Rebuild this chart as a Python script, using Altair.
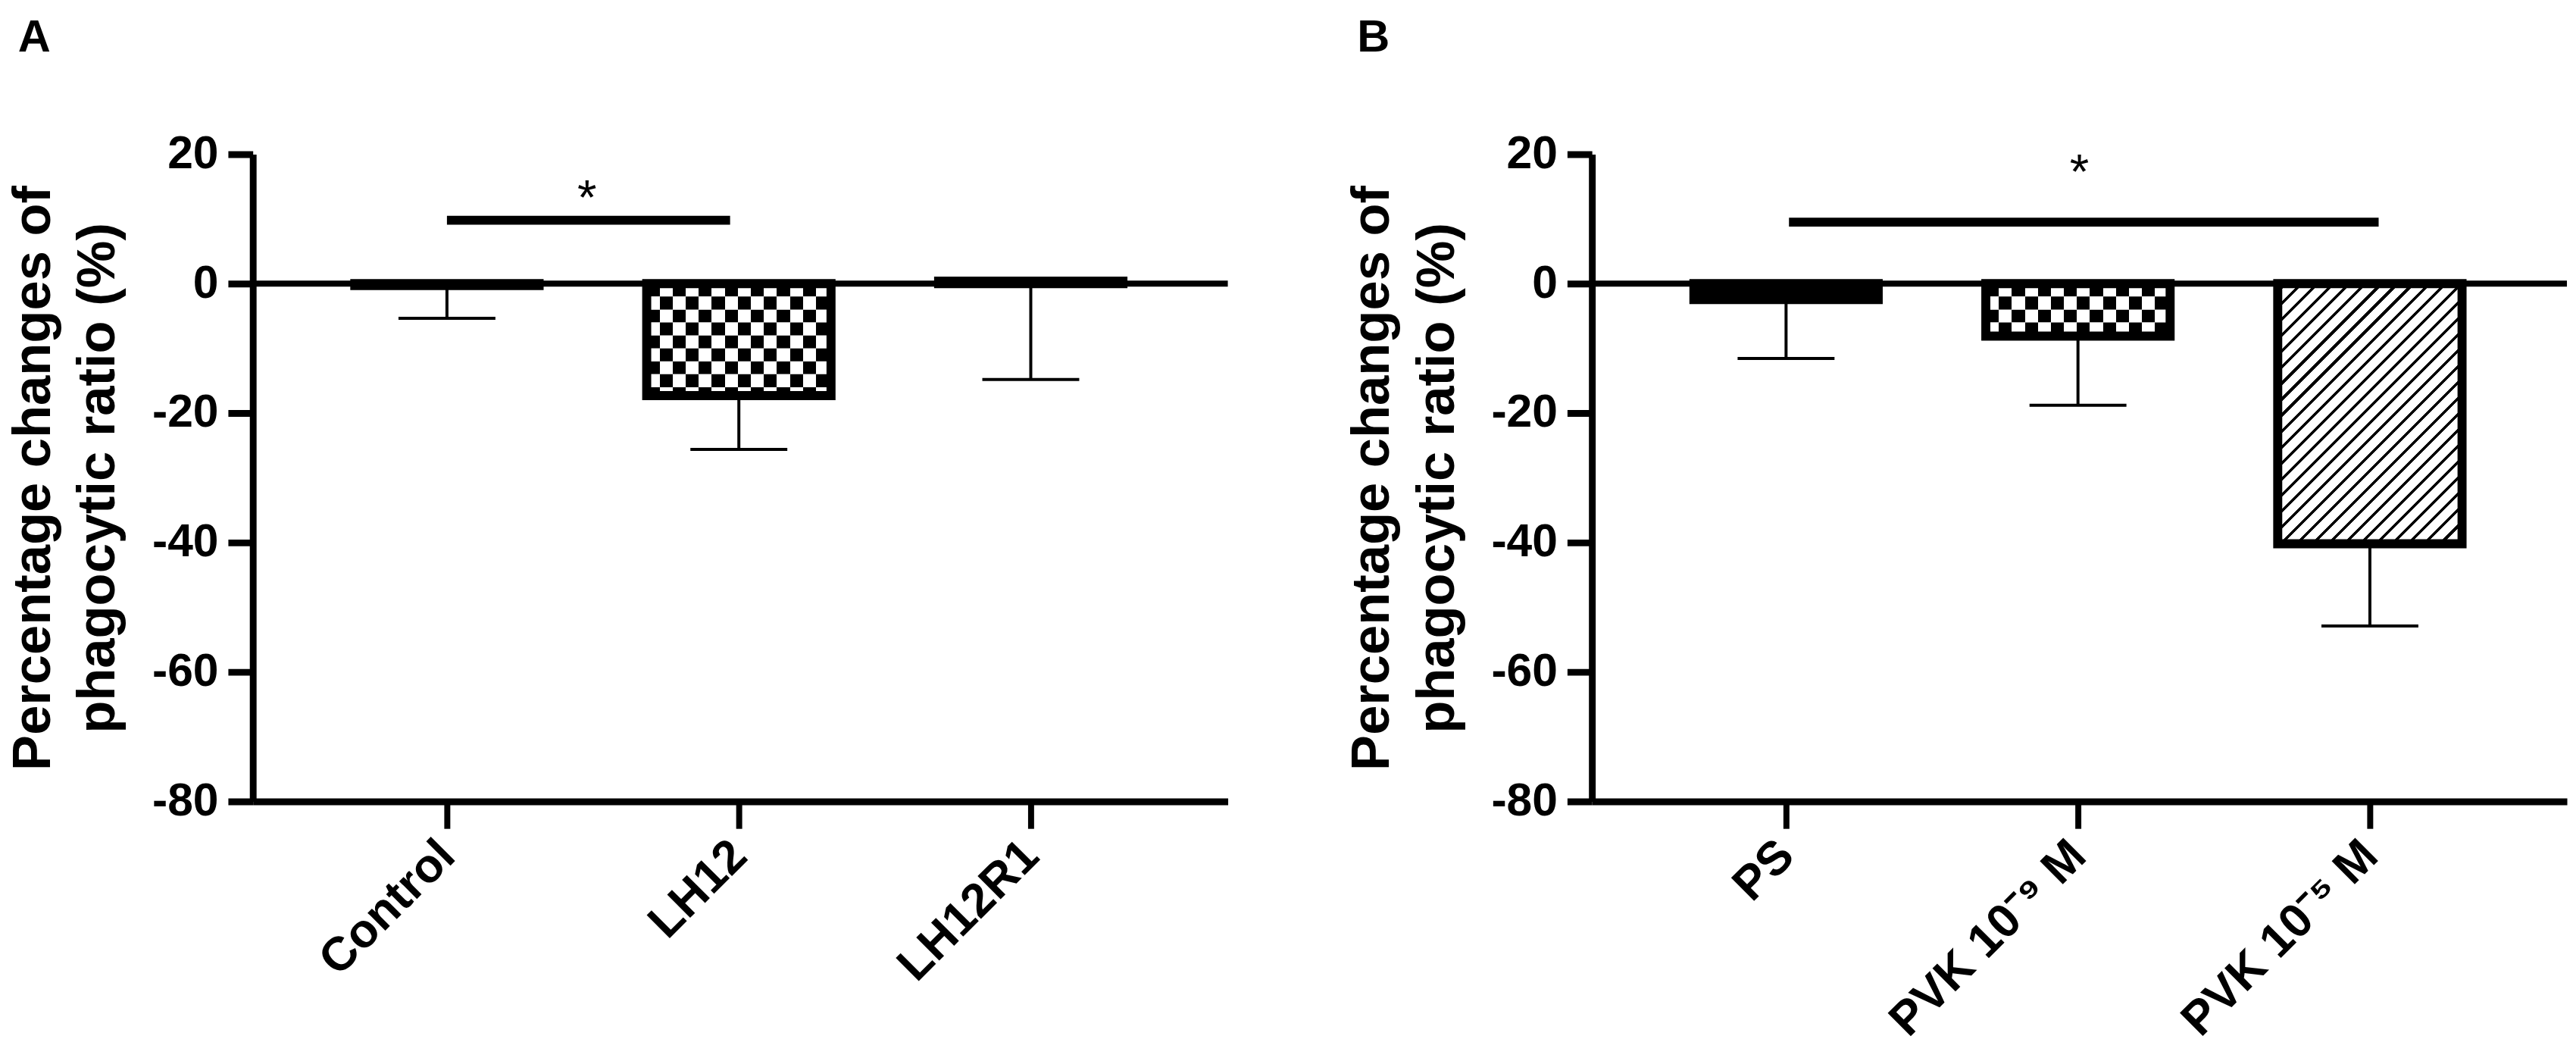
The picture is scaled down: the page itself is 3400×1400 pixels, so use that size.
import json
import math
import altair as alt
import pandas as pd

# ---------------- data ----------------
cats_a = ["Control", "LH12", "LH12R1"]
mean_a = [-0.3, -17.3, 0.4]
sem_a = [5.05, 8.3, 15.2]
style_a = ["solid", "checker", "open"]
sig_a = [0.0, 0.97, 9.8]          # from index, to index, y value
star_a = [0.48, 10.7]            # x index, y value

cats_b = ["PS", "PVK 10⁻⁹ M", "PVK 10⁻⁵ M"]
mean_b = [-2.45, -8.1, -40.2]
sem_b = [9.1, 10.7, 12.7]
style_b = ["solid", "checker", "hatch"]
sig_b = [0.01, 2.03, 9.5]
star_b = [1.005, 14.7]

y_ticks = [-80, -60, -40, -20, 0, 20]
y_title = ["Percentage changes of", "phagocytic ratio (%)"]

# ---------------- layout / style ----------------
FONT = "Liberation Sans"
W, H = 1296, 860
X_DOM = [-0.665, 2.675]
Y_DOM = [-80, 20]
STEP = W / (X_DOM[1] - X_DOM[0])
PXU = H / (Y_DOM[1] - Y_DOM[0])
BAR_HALF = 0.3157
CAP_HALF = 0.166
BAR_PX = 2 * BAR_HALF * STEP
CELL = 17.3


def checker_grad(phase):
    f = CELL / BAR_PX
    n = int(math.ceil(1 / f)) + 1
    stops = []
    for k in range(n):
        c = "black" if (k + phase) % 2 == 0 else "white"
        a, b = min(k * f, 1.0), min((k + 1) * f, 1.0)
        stops.append({"offset": a, "color": c})
        stops.append({"offset": b, "color": c})
    return {"gradient": "linear", "x1": 0, "y1": 0, "x2": 1, "y2": 0, "stops": stops}


def hatch_grad(value):
    w = BAR_PX
    h = abs(value) * PXU
    den = w * w + h * h
    period, blk, phase = 21.2, 5.2, 8.0
    stops = [{"offset": 0.0, "color": "white"}]
    c = phase
    while c < w + h + period:
        t0 = min(c * w / den, 1.0)
        t1 = min((c + blk) * w / den, 1.0)
        stops += [{"offset": t0, "color": "white"}, {"offset": t0, "color": "black"},
                  {"offset": t1, "color": "black"}, {"offset": t1, "color": "white"}]
        c += period
    stops.append({"offset": 1.0, "color": "white"})
    return {"gradient": "linear", "x1": 0, "y1": 0, "x2": 1, "y2": h / w, "stops": stops}


def panel(letter, cats, means, sems, styles, sig, star):
    df = pd.DataFrame({"i": list(range(len(cats))), "cat": cats, "mean": means,
                       "sem": sems, "style": styles})
    df["lo"] = df["mean"] - df["sem"]
    xs = alt.Scale(domain=X_DOM, nice=False, zero=False)
    ys = alt.Scale(domain=Y_DOM, nice=False, zero=False)
    label_expr = json.dumps(cats) + "[round(datum.value)]"
    x_axis = alt.Axis(values=[0, 1, 2], labelExpr=label_expr, title=None, grid=False,
                      domainWidth=9, domainColor="black", tickWidth=8, tickColor="black",
                      tickSize=36, labelAngle=-45, labelAlign="right", labelBaseline="middle",
                      labelFontSize=63, labelFont=FONT, labelLimit=2000,
                      labelFontWeight="bold", labelColor="black", labelPadding=26,
                      labelFlush=False, labelOverlap=False)
    y_axis = alt.Axis(values=y_ticks, labelExpr="'' + datum.value", grid=False,
                      domainWidth=9, domainColor="black", tickWidth=9, tickColor="black",
                      tickSize=33, labelFontSize=61, labelFont=FONT, labelFontWeight="bold",
                      labelColor="black", labelPadding=13, title=y_title,
                      titleFont=FONT, titleFontSize=71, titleFontWeight="bold",
                      titleColor="black", titleLineHeight=86, titlePadding=35,
                      titleLimit=2000)

    base = alt.Chart(df).transform_calculate(
        x0=f"datum.i - {BAR_HALF}", x1=f"datum.i + {BAR_HALF}",
        c0=f"datum.i - {CAP_HALF}", c1=f"datum.i + {CAP_HALF}")

    X = lambda f: alt.X(f, scale=xs)
    Y = lambda f: alt.Y(f, scale=ys)

    fills = base.transform_filter("datum.style != 'hatch'").mark_rect().encode(
        x=alt.X("x0:Q", scale=xs, axis=x_axis),
        x2="x1:Q",
        y=alt.Y("mean:Q", scale=ys, axis=y_axis),
        y2=alt.datum(0),
        fill=alt.condition("datum.style == 'solid'", alt.value("black"), alt.value("white")),
    )
    zero = alt.Chart(pd.DataFrame({"z": [0]})).mark_rule(
        color="black", strokeWidth=8).encode(y=Y("z:Q"))
    layers = [fills, zero]

    if "hatch" in styles:
        hv = means[styles.index("hatch")]
        hatch = base.transform_filter("datum.style == 'hatch'").mark_rect(
            fill=hatch_grad(hv)).encode(
            x=X("x0:Q"), x2="x1:Q", y=Y("mean:Q"), y2=alt.datum(0))
        layers.append(hatch)

    if "checker" in styles:
        ci = styles.index("checker")
        cv = means[ci]
        rows = []
        k = 0
        while -2 * k > cv:
            rows.append({"i": ci, "top": -2 * k, "bot": max(-2 * (k + 1), cv), "par": k % 2})
            k += 1
        rdf = pd.DataFrame(rows)
        for par in (0, 1):
            layers.append(
                alt.Chart(rdf).transform_filter(f"datum.par == {par}").transform_calculate(
                    x0=f"datum.i - {BAR_HALF}", x1=f"datum.i + {BAR_HALF}").mark_rect(
                    fill=checker_grad(par)).encode(
                    x=X("x0:Q"), x2="x1:Q", y=Y("top:Q"), y2="bot:Q"))

    outline = base.mark_rect(fillOpacity=0, stroke="black", strokeWidth=12).encode(
        x=X("x0:Q"), x2="x1:Q", y=Y("mean:Q"), y2=alt.datum(0))
    err = base.mark_rule(color="black", strokeWidth=4).encode(
        x=X("i:Q"), y=Y("mean:Q"), y2="lo:Q")
    caps = base.mark_rule(color="black", strokeWidth=4).encode(
        x=X("c0:Q"), x2="c1:Q", y=Y("lo:Q"))
    sdf = pd.DataFrame({"a": [sig[0]], "b": [sig[1]], "y": [sig[2]],
                        "sx": [star[0]], "sy": [star[1]]})
    sigl = alt.Chart(sdf).mark_rule(color="black", strokeWidth=12).encode(
        x=X("a:Q"), x2="b:Q", y=Y("y:Q"))
    st = alt.Chart(sdf).mark_text(text="*", font=FONT, fontSize=66, color="black",
                                  baseline="alphabetic", align="center").encode(
        x=X("sx:Q"), y=Y("sy:Q"))
    layers += [outline, err, caps, sigl, st]

    return alt.layer(*layers).properties(
        width=W, height=H,
        title=alt.TitleParams(letter, anchor="start", frame="bounds", font=FONT,
                              fontSize=60, fontWeight="bold", color="black",
                              baseline="alphabetic", offset=45, dx=15))


pa = panel("A", cats_a, mean_a, sem_a, style_a, sig_a, star_a)
pb = panel("B", cats_b, mean_b, sem_b, style_b, sig_b, star_b)

chart = alt.hconcat(pa, pb, spacing=152).properties(
    padding={"left": 0, "top": 8, "right": 0, "bottom": 0}
).configure_view(stroke=None)

chart.save("out.html", embed_options={"renderer": "svg", "actions": False})
